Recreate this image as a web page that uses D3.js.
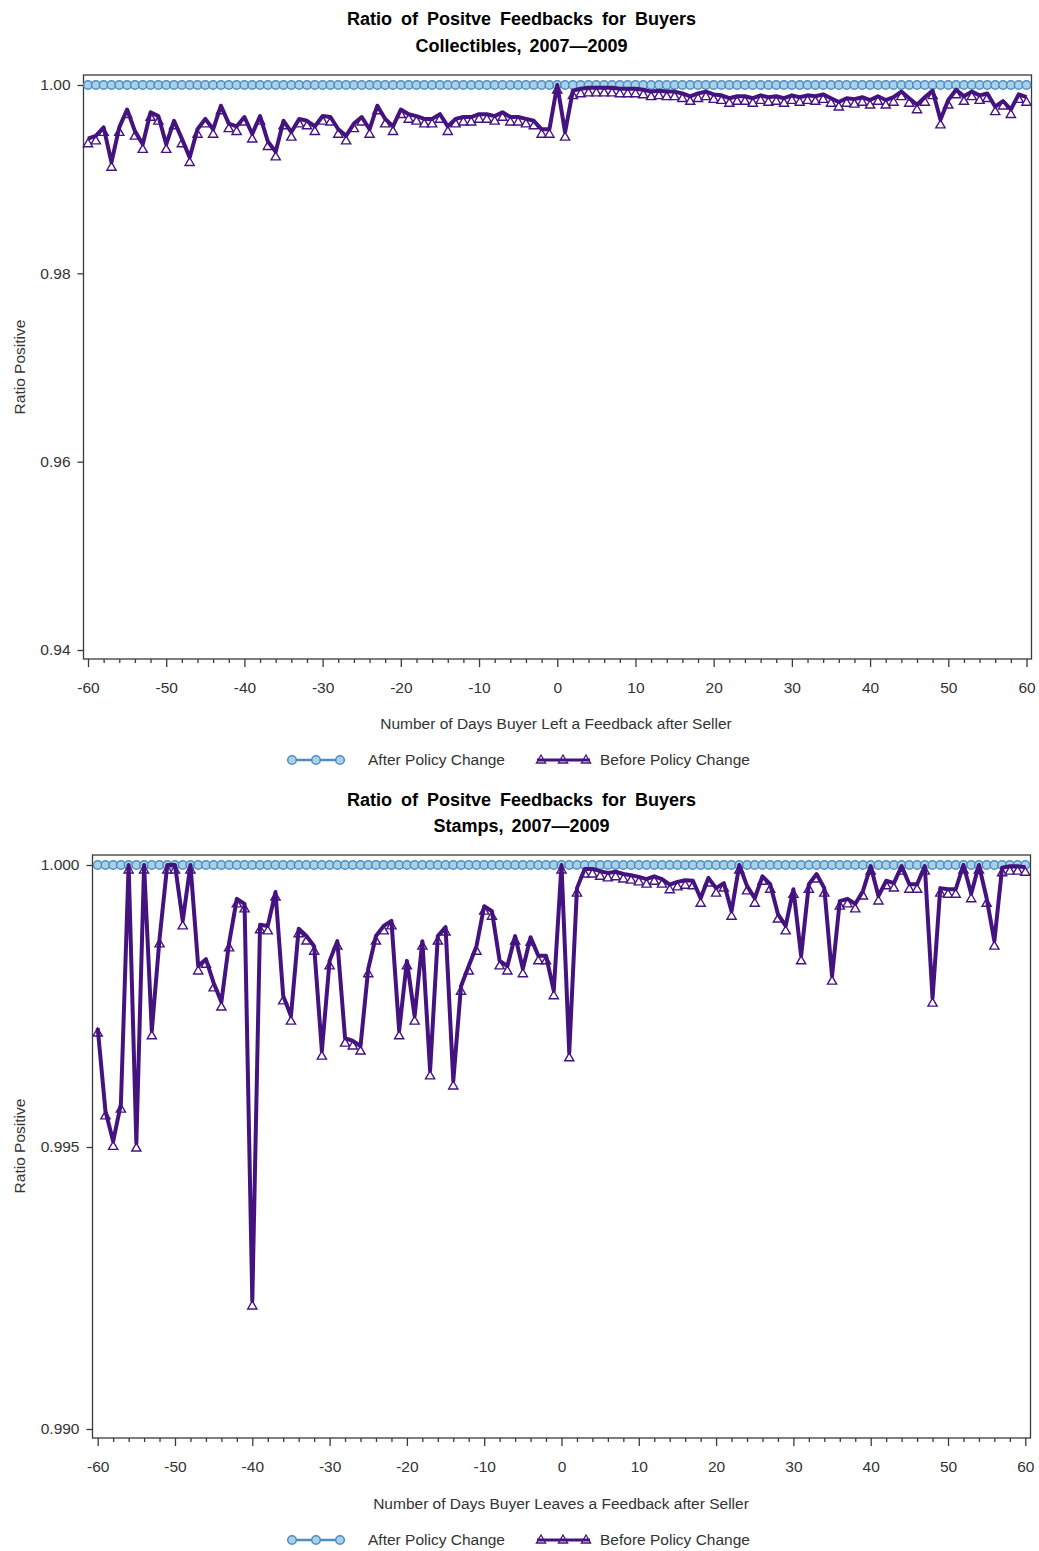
<!DOCTYPE html>
<html>
<head>
<meta charset="utf-8">
<script src="https://cdn.jsdelivr.net/npm/d3@7"></script>
<style>
  body { margin: 0; background: #fff; }
  text { font-family: "Liberation Sans", Arial, sans-serif; }
</style>
</head>
<body>
<div id="chart"></div>
<script>
// Days relative to the seller's feedback
const days = d3.range(-60, 61);
const dayTicks = [-60, -50, -40, -30, -20, -10, 0, 10, 20, 30, 40, 50, 60];
const dayMinorTicks = days.filter(d => d % 2 === 0 && d % 10 !== 0);

// Collectibles
const collectiblesBefore = [
  0.9943, 0.9946, 0.9955, 0.9918, 0.9955, 0.9974, 0.9951, 0.9937, 0.9971, 0.9967,
  0.9937, 0.9962, 0.9943, 0.9923, 0.9953, 0.9964, 0.9953, 0.9978, 0.9959, 0.9956,
  0.9966, 0.9948, 0.9967, 0.9940, 0.9929, 0.9962, 0.9950, 0.9964, 0.9962, 0.9956,
  0.9967, 0.9966, 0.9953, 0.9946, 0.9959, 0.9966, 0.9953, 0.9978, 0.9964, 0.9956,
  0.9974, 0.9969, 0.9967, 0.9964, 0.9964, 0.9969, 0.9956, 0.9964, 0.9966, 0.9966,
  0.9969, 0.9969, 0.9967, 0.9971, 0.9966, 0.9966, 0.9964, 0.9962, 0.9953, 0.9953,
  1.0000,
  0.9950, 0.9994, 0.9996, 0.9997, 0.9997, 0.9997, 0.9997, 0.9996, 0.9996, 0.9996,
  0.9995, 0.9993, 0.9994, 0.9993, 0.9993, 0.9991, 0.9988, 0.9991, 0.9993, 0.9990,
  0.9989, 0.9986, 0.9988, 0.9988, 0.9986, 0.9989, 0.9987, 0.9988, 0.9986, 0.9989,
  0.9987, 0.9989, 0.9988, 0.9990, 0.9986, 0.9982, 0.9986, 0.9985, 0.9987, 0.9984,
  0.9988, 0.9984, 0.9987, 0.9993, 0.9986, 0.9979, 0.9987, 0.9994, 0.9963, 0.9984,
  0.9995, 0.9988, 0.9993, 0.9989, 0.9991, 0.9977, 0.9983, 0.9974, 0.9990, 0.9987
];
const collectiblesAfter = [
  1, 1, 1, 1, 1, 1, 1, 1, 1, 1, 1, 1, 1, 1, 1, 1, 1, 1, 1, 1,
  1, 1, 1, 1, 1, 1, 1, 1, 1, 1, 1, 1, 1, 1, 1, 1, 1, 1, 1, 1,
  1, 1, 1, 1, 1, 1, 1, 1, 1, 1, 1, 1, 1, 1, 1, 1, 1, 1, 1, 1,
  1,
  1, 1, 1, 1, 1, 1, 1, 1, 1, 1, 1, 1, 1, 1, 1, 1, 1, 1, 1, 1,
  1, 1, 1, 1, 1, 1, 1, 1, 1, 1, 1, 1, 1, 1, 1, 1, 1, 1, 1, 1,
  1, 1, 1, 1, 1, 1, 1, 1, 1, 1, 1, 1, 1, 1, 1, 1, 1, 1, 1, 1
];
const collectiblesYTicks = [0.94, 0.96, 0.98, 1.00];

// Stamps
const stampsBefore = [
  0.99711, 0.99564, 0.99510, 0.99576, 1.00000, 0.99507, 1.00000, 0.99706, 0.99869, 1.00000,
  1.00000, 0.99901, 1.00000, 0.99821, 0.99833, 0.99791, 0.99757, 0.99862, 0.99940, 0.99931,
  0.99227, 0.99894, 0.99892, 0.99952, 0.99768, 0.99732, 0.99887, 0.99874, 0.99856, 0.99670,
  0.99830, 0.99865, 0.99693, 0.99688, 0.99679, 0.99816, 0.99874, 0.99892, 0.99901, 0.99706,
  0.99830, 0.99732, 0.99865, 0.99635, 0.99874, 0.99890, 0.99617, 0.99785, 0.99821, 0.99856,
  0.99927, 0.99918, 0.99830, 0.99821, 0.99874, 0.99816, 0.99872, 0.99839, 0.99839, 0.99777,
  1.00000,
  0.99667, 0.99959, 0.99993, 0.99993, 0.99989, 0.99986, 0.99988, 0.99984, 0.99982, 0.99979,
  0.99975, 0.99980, 0.99975, 0.99965, 0.99970, 0.99973, 0.99972, 0.99941, 0.99977, 0.99959,
  0.99968, 0.99918, 1.00000, 0.99963, 0.99941, 0.99980, 0.99966, 0.99913, 0.99892, 0.99957,
  0.99839, 0.99966, 0.99984, 0.99959, 0.99803, 0.99936, 0.99940, 0.99931, 0.99954, 0.99998,
  0.99945, 0.99972, 0.99968, 0.99998, 0.99966, 0.99966, 0.99998, 0.99764, 0.99959, 0.99957,
  0.99957, 1.00000, 0.99949, 1.00000, 0.99941, 0.99865, 0.99995, 0.99998, 0.99998, 0.99996
];
const stampsAfter = [
  1, 1, 1, 1, 1, 1, 1, 1, 1, 1, 1, 1, 1, 1, 1, 1, 1, 1, 1, 1,
  1, 1, 1, 1, 1, 1, 1, 1, 1, 1, 1, 1, 1, 1, 1, 1, 1, 1, 1, 1,
  1, 1, 1, 1, 1, 1, 1, 1, 1, 1, 1, 1, 1, 1, 1, 1, 1, 1, 1, 1,
  1,
  1, 1, 1, 1, 1, 1, 1, 1, 1, 1, 1, 1, 1, 1, 1, 1, 1, 1, 1, 1,
  1, 1, 1, 1, 1, 1, 1, 1, 1, 1, 1, 1, 1, 1, 1, 1, 1, 1, 1, 1,
  1, 1, 1, 1, 1, 1, 1, 1, 1, 1, 1, 1, 1, 1, 1, 1, 1, 1, 1, 1
];
const stampsYTicks = [0.990, 0.995, 1.000];

const titleMain = "Ratio of Positve Feedbacks for Buyers";
const seriesNames = ["After Policy Change", "Before Policy Change"];

const width = 1039, height = 1551;
const afterColor = "#4f8dbd", afterFill = "#a9d0ea";
const beforeColor = "#45137f";

const svg = d3.select("#chart").append("svg")
  .attr("width", width)
  .attr("height", height);

const panels = [
  {
    subtitle: "Collectibles, 2007\u20142009",
    xLabel: "Number of Days Buyer Left a Feedback after Seller",
    before: collectiblesBefore, after: collectiblesAfter,
    yTicks: collectiblesYTicks, yDomain: [0.94, 1.00], yFormat: ".2f",
    frame: { l: 83.5, r: 1031.5, t: 75, b: 659 },
    xRange: [88, 1026.5], yRange: [650, 85],
    titleY: [25, 52], xLabelX: 556, xLabelY: 729, legendY: 760, yLabelY: 367
  },
  {
    subtitle: "Stamps, 2007\u20142009",
    xLabel: "Number of Days Buyer Leaves a Feedback after Seller",
    before: stampsBefore, after: stampsAfter,
    yTicks: stampsYTicks, yDomain: [0.990, 1.000], yFormat: ".3f",
    frame: { l: 92.5, r: 1030.5, t: 855, b: 1438 },
    xRange: [97.7, 1025.3], yRange: [1429, 865],
    titleY: [806, 832], xLabelX: 561, xLabelY: 1509, legendY: 1540, yLabelY: 1146
  }
];

const triangle = "M0,0L4.6,8L-4.6,8Z";

panels.forEach(p => drawPanel(p));

function drawPanel(p) {
  const g = svg.append("g");
  const x = d3.scaleLinear().domain([-60, 60]).range(p.xRange);
  const y = d3.scaleLinear().domain(p.yDomain).range(p.yRange);

  // titles
  g.append("text")
    .attr("x", 521.5).attr("y", p.titleY[0])
    .attr("text-anchor", "middle")
    .style("font-size", "18px").style("font-weight", "bold")
    .style("word-spacing", "4px")
    .text(titleMain);
  g.append("text")
    .attr("x", 521.5).attr("y", p.titleY[1])
    .attr("text-anchor", "middle")
    .style("font-size", "18px").style("font-weight", "bold")
    .style("word-spacing", "3px")
    .text(p.subtitle);

  // frame
  g.append("rect")
    .attr("x", p.frame.l).attr("y", p.frame.t)
    .attr("width", p.frame.r - p.frame.l)
    .attr("height", p.frame.b - p.frame.t)
    .attr("fill", "none").attr("stroke", "#3a3a3a").attr("stroke-width", 1.3);

  // x axis, major and minor ticks
  const xAxis = g.append("g")
    .attr("transform", `translate(0,${p.frame.b})`)
    .call(d3.axisBottom(x).tickValues(dayTicks).tickSize(8).tickPadding(15)
      .tickFormat(d => String(d)));
  g.append("g")
    .attr("transform", `translate(0,${p.frame.b})`)
    .call(d3.axisBottom(x).tickValues(dayMinorTicks).tickSize(4).tickFormat(""))
    .call(a => a.select(".domain").remove());

  // y axis
  const yAxis = g.append("g")
    .attr("transform", `translate(${p.frame.l},0)`)
    .call(d3.axisLeft(y).tickValues(p.yTicks).tickSize(6).tickPadding(7)
      .tickFormat(d3.format(p.yFormat)));

  [xAxis, yAxis].forEach(a => {
    a.select(".domain").remove();
    a.selectAll("text").style("font-size", "15.5px").attr("fill", "#333")
      .style("font-family", '"Liberation Sans", Arial, sans-serif');
  });
  g.selectAll(".tick line").attr("stroke", "#3a3a3a").attr("stroke-width", 1.3);

  // axis titles
  g.append("text")
    .attr("x", p.xLabelX).attr("y", p.xLabelY)
    .attr("text-anchor", "middle")
    .style("font-size", "15.5px").attr("fill", "#333")
    .text(p.xLabel);
  g.append("text")
    .attr("transform", `translate(25,${p.yLabelY}) rotate(-90)`)
    .attr("text-anchor", "middle")
    .style("font-size", "15.5px").attr("fill", "#333")
    .text("Ratio Positive");

  // after policy change: flat series with circle markers
  const afterData = days.map((d, i) => ({ day: d, v: p.after[i] }));
  const beforeData = days.map((d, i) => ({ day: d, v: p.before[i] }));
  const line = d3.line().x(d => x(d.day)).y(d => y(d.v));

  g.append("path").datum(afterData)
    .attr("d", line)
    .attr("fill", "none").attr("stroke", afterColor).attr("stroke-width", 3);
  g.selectAll("circle.after").data(afterData).join("circle")
    .attr("class", "after")
    .attr("cx", d => x(d.day)).attr("cy", d => y(d.v))
    .attr("r", 4.3)
    .attr("fill", afterFill).attr("stroke", afterColor).attr("stroke-width", 1.5);

  // before policy change: triangles under a thick line
  g.selectAll("path.tri").data(beforeData).join("path")
    .attr("class", "tri")
    .attr("transform", d => `translate(${x(d.day)},${y(d.v)})`)
    .attr("d", triangle)
    .attr("fill", "#fff").attr("stroke", beforeColor).attr("stroke-width", 1.4);
  g.append("path").datum(beforeData)
    .attr("d", line)
    .attr("fill", "none").attr("stroke", beforeColor).attr("stroke-width", 4)
    .attr("stroke-linejoin", "round");

  // legend
  const leg = g.append("g").attr("transform", `translate(0,${p.legendY})`);
  leg.append("line").attr("x1", 288).attr("x2", 345)
    .attr("stroke", afterColor).attr("stroke-width", 2.5);
  leg.selectAll("circle").data([292, 316, 340]).join("circle")
    .attr("cx", d => d).attr("r", 4.3)
    .attr("fill", afterFill).attr("stroke", afterColor).attr("stroke-width", 1.5);
  leg.append("text").attr("x", 368).attr("y", 5)
    .style("font-size", "15.5px").attr("fill", "#333").text(seriesNames[0]);

  leg.selectAll("path.ltri").data([541, 563, 586]).join("path")
    .attr("class", "ltri")
    .attr("transform", d => `translate(${d},-5)`)
    .attr("d", triangle)
    .attr("fill", "#fff").attr("stroke", beforeColor).attr("stroke-width", 1.3);
  leg.append("line").attr("x1", 537).attr("x2", 590)
    .attr("stroke", beforeColor).attr("stroke-width", 3);
  leg.append("text").attr("x", 600).attr("y", 5)
    .style("font-size", "15.5px").attr("fill", "#333").text(seriesNames[1]);
}
</script>
</body>
</html>
